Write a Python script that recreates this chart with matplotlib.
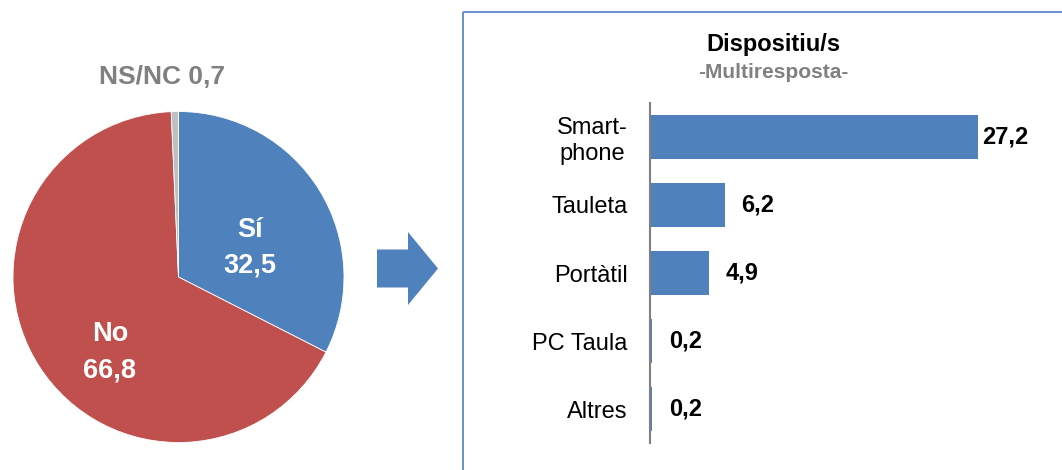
import matplotlib.pyplot as plt
import matplotlib.patches as mpatches

plt.rcParams['font.family'] = ['Liberation Sans', 'DejaVu Sans']

# pie: uses the device or not
pie_labels = ["Sí", "No", "NS/NC"]
pie_values = [32.5, 66.8, 0.7]
pie_colors = ["#4F81BD", "#C0504D", "#BFBFBF"]

# bars: which device (multiple answers)
devices = ["Smart-\nphone", "Tauleta", "Portàtil", "PC Taula", "Altres"]
device_values = [27.2, 6.2, 4.9, 0.2, 0.2]

def fmt(v):
    return f"{v:.1f}".replace(".", ",")

W, H = 1062, 470
fig = plt.figure(figsize=(W / 100, H / 100), dpi=100)
fig.patch.set_facecolor("white")

# overlay in pixel units for the frame and the arrow
deco = fig.add_axes([0, 0, 1, 1])
deco.set_xlim(0, W)
deco.set_ylim(H, 0)
deco.axis("off")
deco.add_patch(mpatches.Rectangle((463, 12), 700, 500, fill=False,
                                  edgecolor="#5B8AC6", linewidth=1.3))
deco.add_patch(mpatches.FancyArrow(377, 268.5, 61, 0, width=38, head_width=73,
                                   head_length=30, length_includes_head=True,
                                   color="#4F81BD", linewidth=0))

# pie chart
axp = fig.add_axes([13 / W, (H - 442.5) / H, 331 / W, 331 / H])
axp.pie(pie_values, colors=pie_colors, startangle=90, counterclock=False,
        radius=1, wedgeprops=dict(edgecolor="white", linewidth=0.6))
axp.set_xlim(-1, 1)
axp.set_ylim(-1, 1)
axp.text(0.432, 0.178, f"{pie_labels[0]}\n{fmt(pie_values[0])}", ha="center", va="center",
         fontsize=19.5, fontweight="bold", color="white", linespacing=1.5)
axp.text(-0.414, -0.456, f"{pie_labels[1]}\n{fmt(pie_values[1])}", ha="center", va="center",
         fontsize=19.5, fontweight="bold", color="white", linespacing=1.5)
axp.text(-0.10, 1.208, f"{pie_labels[2]} {fmt(pie_values[2])}", ha="center", va="center",
         fontsize=19, fontweight="bold", color="#808080")

# bar chart
axb = fig.add_axes([650 / W, (H - 443) / H, 362 / W, 340 / H])
ypos = list(range(len(devices)))
axb.barh(ypos, device_values, height=0.66, color="#4F81BD")
axb.set_xlim(0, 30)
axb.set_ylim(len(devices) - 0.5, -0.5)
axb.set_yticks(ypos)
axb.set_yticklabels(devices, fontsize=17)
axb.get_yticklabels()[0].set_multialignment("center")
axb.tick_params(axis="y", length=0, pad=16)
axb.set_xticks([])
for s in ["top", "right", "bottom"]:
    axb.spines[s].set_visible(False)
axb.spines["left"].set_color("#808080")
axb.spines["left"].set_linewidth(1.5)
for y, v in zip(ypos, device_values):
    off = 3 if v == max(device_values) else 12
    axb.annotate(fmt(v), (v, y), xytext=(off, 0), textcoords="offset points",
                 ha="left", va="center", fontsize=17, fontweight="bold")

fig.text(773 / W, 1 - 45 / H, "Dispositiu/s", ha="center", va="center",
         fontsize=17, fontweight="bold")
fig.text(773 / W, 1 - 73 / H, "-Multiresposta-", ha="center", va="center",
         fontsize=15, fontweight="bold", color="#808080")

fig.savefig("out.png", dpi=100, facecolor="white")
